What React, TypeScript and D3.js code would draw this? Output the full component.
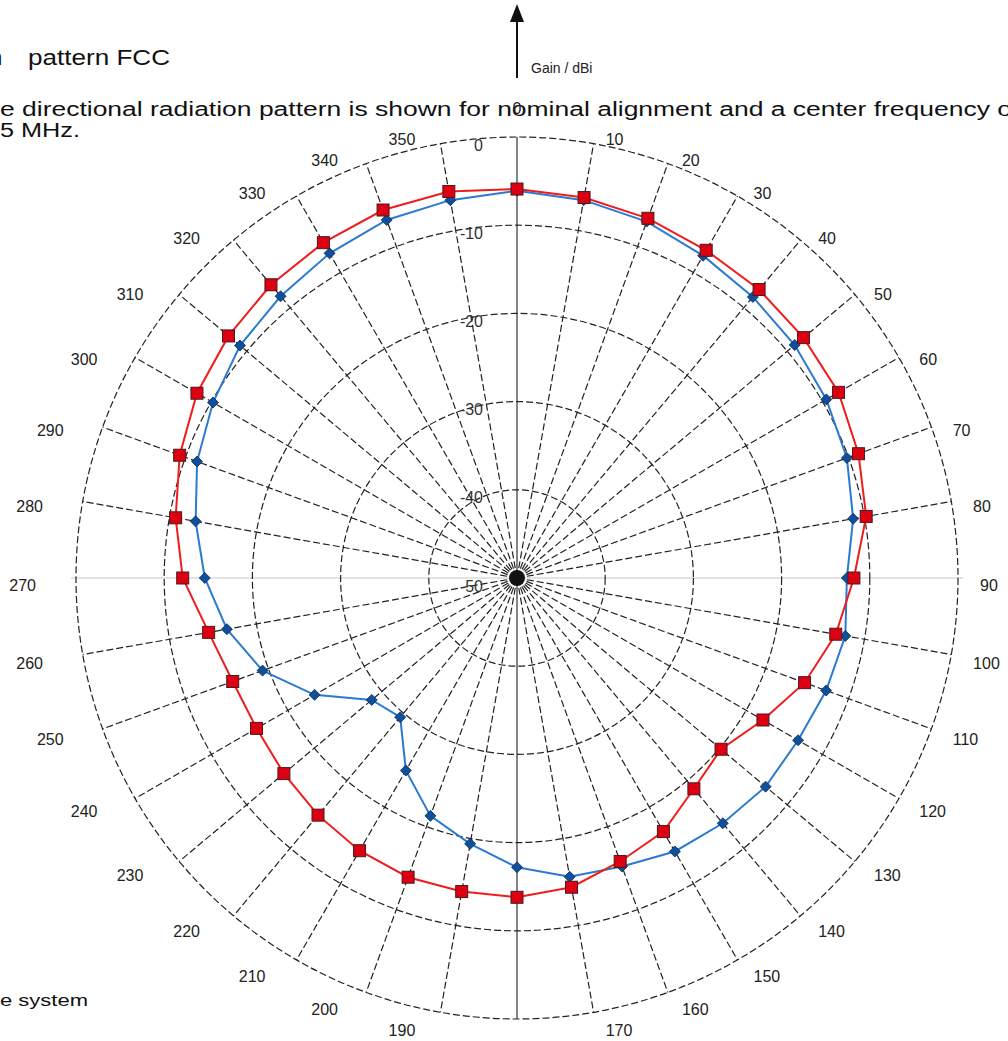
import React from 'react';
import * as d3 from 'd3';

// azimuth angles (degrees, clockwise from north)
const ANGLES = [0, 10, 20, 30, 40, 50, 60, 70, 80, 90, 100, 110, 120, 130, 140, 150, 160, 170,
  180, 190, 200, 210, 220, 230, 240, 250, 260, 270, 280, 290, 300, 310, 320, 330, 340, 350];

// gain in dBi, red squares
const GAIN_RED = [-5.9, -6.2, -6.6, -7.1, -7.3, -7.6, -7.9, -8.8, -9.8, -11.8, -13.3, -15.3,
  -17.8, -19.8, -18.8, -16.8, -15.8, -14.4, -13.8, -13.9, -13.9, -14.3, -14.9, -15.5,
  -15.9, -15.7, -14.5, -12.1, -10.7, -9.3, -8.1, -7.3, -6.6, -6.1, -5.6, -5.5];

// gain in dBi, blue diamonds
const GAIN_BLUE = [-6.1, -6.5, -7.0, -7.8, -8.4, -8.9, -9.5, -10.2, -11.3, -12.6, -12.2, -12.7,
  -13.2, -13.2, -13.7, -14.2, -15.2, -15.6, -17.2, -19.4, -21.3, -24.8, -29.4, -28.5,
  -23.5, -19.3, -16.6, -14.6, -13.0, -11.4, -10.2, -9.0, -8.3, -7.5, -6.8, -6.5];

const RING_TICKS = [-50, -40, -30, -20, -10, 0];

const W = 1008;
const H = 1041;
const CX = 517;
const CY = 578;
const R = 441;

const rScale = d3.scaleLinear().domain([-50, 0]).range([0, R]);
const rad = (deg: number) => (deg * Math.PI) / 180;

const toXY = (deg: number, r: number) => [CX + r * Math.sin(rad(deg)), CY - r * Math.cos(rad(deg))];

// angle labels sit just outside the rim, pushed sideways
function angleLabel(deg: number) {
  const s = Math.sin(rad(deg));
  const c = Math.cos(rad(deg));
  const [ex, ey] = toXY(deg, R);
  if (Math.abs(s) < 0.01) return { x: ex, y: ey - 29 * c, anchor: 'middle' };
  const right = s > 0;
  const gap = right ? 10 + 12 * Math.abs(s) : 22 + 18 * Math.abs(s);
  return { x: right ? ex + gap : ex - gap, y: ey + 7 - 11 * c, anchor: right ? 'start' : 'end' };
}

const FONT = 'Liberation Sans, Arial, sans-serif';

export default function App() {
  const line = d3
    .lineRadial<number>()
    .angle((_, i) => rad(ANGLES[i]))
    .radius((d) => rScale(d))
    .curve(d3.curveLinearClosed);

  const diamond = (x: number, y: number, h = 5.5) =>
    `M${x},${y - h}L${x + h},${y}L${x},${y + h}L${x - h},${y}Z`;

  // the 180 label falls below the page in the original
  const shownLabels = ANGLES.filter((a) => a !== 180);

  return (
    <svg width={W} height={H} style={{ position: 'absolute', left: 0, top: 0, background: '#fff' }}
      fontFamily={FONT}>
      {/* document text around the figure */}
      <text x={-10} y={65} fontSize={22} fill="#111">n</text>
      <text x={28} y={65} fontSize={22} fill="#111" textLength={142} lengthAdjust="spacingAndGlyphs">pattern FCC</text>
      <text x={0} y={116} fontSize={20} fill="#111" textLength={1012} lengthAdjust="spacingAndGlyphs">
        e directional radiation pattern is shown for nominal alignment and a center frequency o
      </text>
      <text x={0} y={137} fontSize={20} fill="#111" textLength={80} lengthAdjust="spacingAndGlyphs">5 MHz.</text>
      <text x={0} y={1006} fontSize={17} fill="#111" textLength={88} lengthAdjust="spacingAndGlyphs">e system</text>

      {/* gain arrow */}
      <line x1={CX} x2={CX} y1={20} y2={78} stroke="#111" strokeWidth={2} />
      <path d={`M${CX},4L${CX + 7},22L${CX - 7},22Z`} fill="#111" />
      <text x={531} y={73} fontSize={14} fill="#222">Gain / dBi</text>

      {/* axes */}
      <line x1={CX - R - 5} x2={CX + R + 5} y1={CY} y2={CY} stroke="#c8c8c8" strokeWidth={1.2} />
      <line x1={CX} x2={CX} y1={CY - R} y2={CY + R} stroke="#666" strokeWidth={1.6} />

      {/* rings */}
      {RING_TICKS.filter((t) => t > -50).map((t) => (
        <circle key={t} cx={CX} cy={CY} r={rScale(t)} fill="none" stroke="#222"
          strokeWidth={1.2} strokeDasharray="7 3" />
      ))}

      {/* spokes */}
      {ANGLES.filter((a) => a % 90 !== 0).map((a) => {
        const [x, y] = toXY(a, R);
        return <line key={a} x1={CX} y1={CY} x2={x} y2={y} stroke="#222" strokeWidth={1.2} strokeDasharray="7 3" />;
      })}
      <circle cx={CX} cy={CY} r={8} fill="#111" />

      {/* ring labels */}
      {RING_TICKS.map((t) => (
        <text key={t} x={483} y={CY - rScale(t) + 8} fontSize={16} fill="#333" textAnchor="end"
          dominantBaseline="central">{t}</text>
      ))}

      {/* angle labels */}
      {shownLabels.map((a) => {
        const p = angleLabel(a);
        return (
          <text key={a} x={p.x} y={p.y} fontSize={16} fill="#222" textAnchor={p.anchor}
            dominantBaseline="central">{a}</text>
        );
      })}

      {/* blue series */}
      <g transform={`translate(${CX},${CY})`}>
        <path d={line(GAIN_BLUE) || ''} fill="none" stroke="#2c7ad0" strokeWidth={2} />
      </g>
      {GAIN_BLUE.map((v, i) => {
        const [x, y] = toXY(ANGLES[i], rScale(v));
        return <path key={i} d={diamond(x, y)} fill="#0f4f9c" stroke="#0a2850" strokeWidth={0.8} />;
      })}

      {/* red series */}
      <g transform={`translate(${CX},${CY})`}>
        <path d={line(GAIN_RED) || ''} fill="none" stroke="#f01c1c" strokeWidth={2} />
      </g>
      {GAIN_RED.map((v, i) => {
        const [x, y] = toXY(ANGLES[i], rScale(v));
        return <rect key={i} x={x - 6} y={y - 6} width={12} height={12} fill="#dc0012" stroke="#4a1a1a" strokeWidth={1} />;
      })}
    </svg>
  );
}
